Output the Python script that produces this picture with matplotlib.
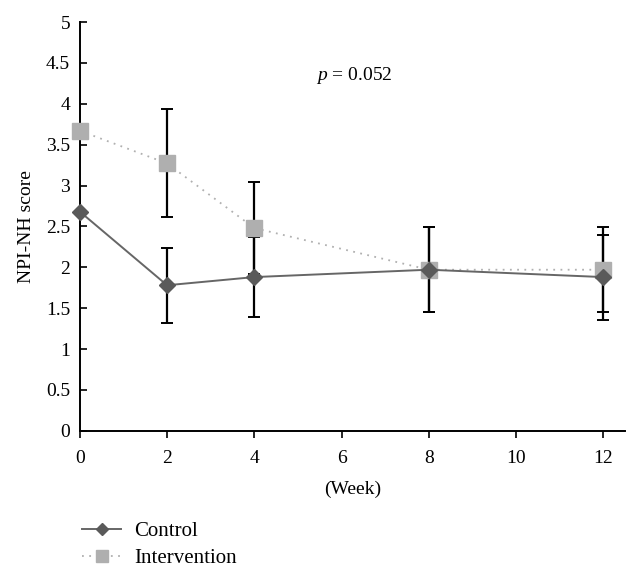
import numpy as np
import matplotlib.pyplot as plt

plt.rcParams['font.family'] = ['Liberation Serif', 'DejaVu Serif']
plt.rcParams['mathtext.fontset'] = 'custom'
plt.rcParams['mathtext.it'] = 'Liberation Serif:italic'
plt.rcParams['mathtext.rm'] = 'Liberation Serif'

weeks = [0, 2, 4, 8, 12]
control = [2.68, 1.78, 1.88, 1.97, 1.88]
control_err = [0, 0.46, 0.49, 0.52, 0.52]
intervention = [3.67, 3.27, 2.48, 1.97, 1.97]
intervention_err = [0, 0.66, 0.56, 0.52, 0.52]

fig = plt.figure(figsize=(6.39, 5.79), dpi=100)
ax = fig.add_axes([0.125, 0.256, 0.853, 0.706])

ax.errorbar(weeks, intervention, yerr=intervention_err, fmt='none',
            ecolor='black', elinewidth=1.6, capsize=4, capthick=1.4, zorder=2)
ax.errorbar(weeks, control, yerr=control_err, fmt='none',
            ecolor='black', elinewidth=1.6, capsize=4, capthick=1.4, zorder=2)
ax.plot(weeks, intervention, color='#b0b0b0', linestyle=(0, (1, 3)), linewidth=1.3,
        marker='s', markersize=11, markerfacecolor='#afafaf', markeredgecolor='#afafaf',
        label='Intervention', zorder=3, clip_on=False)
ax.plot(weeks, control, color='#666666', linewidth=1.4,
        marker='D', markersize=8, markerfacecolor='#5a5a5a', markeredgecolor='#5a5a5a',
        label='Control', zorder=4, clip_on=False)

ax.set_xlim(0, 12.5)
ax.set_ylim(0, 5)
ax.set_xticks([0, 2, 4, 6, 8, 10, 12])
ax.set_yticks(np.arange(0, 5.01, 0.5))
ax.set_yticklabels(['0', '0.5', '1', '1.5', '2', '2.5', '3', '3.5', '4', '4.5', '5'])
ax.spines['top'].set_visible(False)
ax.spines['right'].set_visible(False)
ax.spines['left'].set_linewidth(1.4)
ax.spines['bottom'].set_linewidth(1.4)
ax.tick_params(axis='y', direction='in', length=5, width=1.2, labelsize=14, pad=7)
ax.tick_params(axis='x', direction='out', length=5, width=1.2, labelsize=14, pad=9)

ax.set_ylabel('NPI-NH score', fontsize=14, labelpad=8)
ax.set_xlabel('(Week)', fontsize=14, labelpad=10)
ax.text(6.3, 4.34, '$p$ = 0.052', fontsize=14, ha='center', va='center')

handles, labels = ax.get_legend_handles_labels()
fig.legend(handles[::-1], labels[::-1], loc='upper left', bbox_to_anchor=(0.115, 0.113),
           frameon=False, fontsize=15, handlelength=1.9, handletextpad=0.6,
           labelspacing=0.35, borderaxespad=0, markerscale=0.8)

fig.savefig('out.png', dpi=100)
